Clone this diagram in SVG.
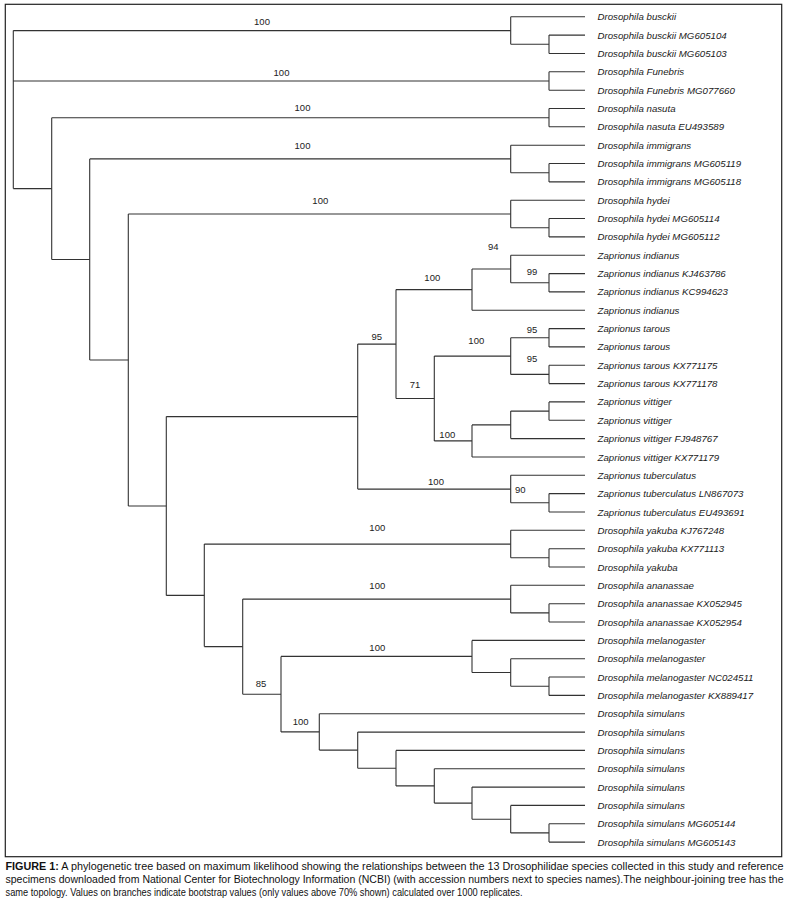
<svg xmlns="http://www.w3.org/2000/svg" width="792" height="902" viewBox="0 0 792 902">
<style>
.frame{fill:none;stroke:#222;stroke-width:1.2}
.br{fill:none;stroke:#333;stroke-width:1.1}
.lf{font-family:"Liberation Sans",Arial,sans-serif;font-style:italic;font-size:9.7px;fill:#1a1a1a}
.bs{font-family:"Liberation Sans",Arial,sans-serif;font-size:9.5px;fill:#222;text-anchor:middle}
.cap{font-family:"Liberation Sans",Arial,sans-serif;font-size:10.5px;fill:#111}
</style>
<rect class="frame" x="5.3" y="4.3" width="776.4" height="852.4"/>
<g id="connectors" class="br">
<path d="M13.3 30.6V188.6M13.3 30.6H510.7M13.3 81H549M13.3 188.6H51.7"/>
<path d="M510.7 16.8V44.3M510.7 16.8H585M510.7 44.3H549"/>
<path d="M549 35.1V53.5M549 35.1H585M549 53.5H585"/>
<path d="M549 71.8V90.2M549 71.8H585M549 90.2H585"/>
<path d="M51.7 117.7V259.5M51.7 117.7H549M51.7 259.5H89.7"/>
<path d="M549 108.5V126.8M549 108.5H585M549 126.8H585"/>
<path d="M89.7 158.9V360M89.7 158.9H510.7M89.7 360H128.3"/>
<path d="M510.7 145.2V172.7M510.7 145.2H585M510.7 172.7H549"/>
<path d="M549 163.5V181.9M549 163.5H585M549 181.9H585"/>
<path d="M128.3 214V506M128.3 214H510.7M128.3 506H166.3"/>
<path d="M510.7 200.2V227.7M510.7 200.2H585M510.7 227.7H549"/>
<path d="M549 218.5V236.9M549 218.5H585M549 236.9H585"/>
<path d="M166.3 416.6V595.4M166.3 416.6H357.7M166.3 595.4H204.3"/>
<path d="M357.7 344.1V489.1M357.7 344.1H396M357.7 489.1H510.7"/>
<path d="M396 289.6V398.5M396 289.6H472M396 398.5H434.3"/>
<path d="M472 269V310.2M472 269H510.7M472 310.2H585"/>
<path d="M510.7 255.2V282.7M510.7 255.2H585M510.7 282.7H549"/>
<path d="M549 273.6V291.9M549 273.6H585M549 291.9H585"/>
<path d="M434.3 356.1V440.9M434.3 356.1H510.7M434.3 440.9H472"/>
<path d="M510.7 337.8V374.4M510.7 337.8H549M510.7 374.4H549"/>
<path d="M549 328.6V346.9M549 328.6H585M549 346.9H585"/>
<path d="M549 365.3V383.6M549 365.3H585M549 383.6H585"/>
<path d="M472 424.9V457M472 424.9H510.7M472 457H585"/>
<path d="M510.7 411.1V438.6M510.7 411.1H549M510.7 438.6H585"/>
<path d="M549 401.9V420.3M549 401.9H585M549 420.3H585"/>
<path d="M510.7 475.3V502.8M510.7 475.3H585M510.7 502.8H549"/>
<path d="M549 493.6V512M549 493.6H585M549 512H585"/>
<path d="M204.3 544.1V646.6M204.3 544.1H510.7M204.3 646.6H242.7"/>
<path d="M510.7 530.3V557.8M510.7 530.3H585M510.7 557.8H549"/>
<path d="M549 548.7V567M549 548.7H585M549 567H585"/>
<path d="M242.7 599.1V694.2M242.7 599.1H510.7M242.7 694.2H281"/>
<path d="M510.7 585.3V612.9M510.7 585.3H585M510.7 612.9H549"/>
<path d="M549 603.7V622M549 603.7H585M549 622H585"/>
<path d="M281 656.4V731.9M281 656.4H472M281 731.9H319.3"/>
<path d="M472 640.4V672.5M472 640.4H585M472 672.5H510.7"/>
<path d="M510.7 658.7V686.2M510.7 658.7H585M510.7 686.2H549"/>
<path d="M549 677V695.4M549 677H585M549 695.4H585"/>
<path d="M319.3 713.7V750.1M319.3 713.7H585M319.3 750.1H357.7"/>
<path d="M357.7 732.1V768.2M357.7 732.1H585M357.7 768.2H396"/>
<path d="M396 750.4V785.9M396 750.4H585M396 785.9H434.3"/>
<path d="M434.3 768.7V803.1M434.3 768.7H585M434.3 803.1H472"/>
<path d="M472 787.1V819.2M472 787.1H585M472 819.2H510.7"/>
<path d="M510.7 805.4V832.9M510.7 805.4H585M510.7 832.9H549"/>
<path d="M549 823.8V842.1M549 823.8H585M549 842.1H585"/>
</g>
<g id="bootstrap" class="bs">
<text x="262" y="25">100</text>
<text x="281.5" y="76">100</text>
<text x="302.5" y="111">100</text>
<text x="302.5" y="149">100</text>
<text x="320.3" y="204">100</text>
<text x="493.3" y="250">94</text>
<text x="432.3" y="281">100</text>
<text x="532" y="275">99</text>
<text x="376.7" y="340">95</text>
<text x="476.3" y="344">100</text>
<text x="532" y="332.7">95</text>
<text x="532" y="361.7">95</text>
<text x="415" y="387.7">71</text>
<text x="447.3" y="438">100</text>
<text x="436" y="484.7">100</text>
<text x="520.3" y="493">90</text>
<text x="377.3" y="530.7">100</text>
<text x="377.3" y="588.7">100</text>
<text x="377.3" y="650.7">100</text>
<text x="261" y="686.7">85</text>
<text x="300.7" y="724.7">100</text>
</g>
<g id="leaves" class="lf">
<g id="leaf-1"><text x="597.5" y="20.3">Drosophila busckii</text></g>
<g id="leaf-2"><text x="597.5" y="38.6">Drosophila busckii MG605104</text></g>
<g id="leaf-3"><text x="597.5" y="57">Drosophila busckii MG605103</text></g>
<g id="leaf-4"><text x="597.5" y="75.3">Drosophila Funebris</text></g>
<g id="leaf-5"><text x="597.5" y="93.7">Drosophila Funebris MG077660</text></g>
<g id="leaf-6"><text x="597.5" y="112">Drosophila nasuta</text></g>
<g id="leaf-7"><text x="597.5" y="130.3">Drosophila nasuta EU493589</text></g>
<g id="leaf-8"><text x="597.5" y="148.7">Drosophila immigrans</text></g>
<g id="leaf-9"><text x="597.5" y="167">Drosophila immigrans MG605119</text></g>
<g id="leaf-10"><text x="597.5" y="185.4">Drosophila immigrans MG605118</text></g>
<g id="leaf-11"><text x="597.5" y="203.7">Drosophila hydei</text></g>
<g id="leaf-12"><text x="597.5" y="222">Drosophila hydei MG605114</text></g>
<g id="leaf-13"><text x="597.5" y="240.4">Drosophila hydei MG605112</text></g>
<g id="leaf-14"><text x="597.5" y="258.7">Zaprionus indianus</text></g>
<g id="leaf-15"><text x="597.5" y="277.1">Zaprionus indianus KJ463786</text></g>
<g id="leaf-16"><text x="597.5" y="295.4">Zaprionus indianus KC994623</text></g>
<g id="leaf-17"><text x="597.5" y="313.7">Zaprionus indianus</text></g>
<g id="leaf-18"><text x="597.5" y="332.1">Zaprionus tarous</text></g>
<g id="leaf-19"><text x="597.5" y="350.4">Zaprionus tarous</text></g>
<g id="leaf-20"><text x="597.5" y="368.8">Zaprionus tarous KX771175</text></g>
<g id="leaf-21"><text x="597.5" y="387.1">Zaprionus tarous KX771178</text></g>
<g id="leaf-22"><text x="597.5" y="405.4">Zaprionus vittiger</text></g>
<g id="leaf-23"><text x="597.5" y="423.8">Zaprionus vittiger</text></g>
<g id="leaf-24"><text x="597.5" y="442.1">Zaprionus vittiger FJ948767</text></g>
<g id="leaf-25"><text x="597.5" y="460.5">Zaprionus vittiger KX771179</text></g>
<g id="leaf-26"><text x="597.5" y="478.8">Zaprionus tuberculatus</text></g>
<g id="leaf-27"><text x="597.5" y="497.1">Zaprionus tuberculatus LN867073</text></g>
<g id="leaf-28"><text x="597.5" y="515.5">Zaprionus tuberculatus EU493691</text></g>
<g id="leaf-29"><text x="597.5" y="533.8">Drosophila yakuba KJ767248</text></g>
<g id="leaf-30"><text x="597.5" y="552.2">Drosophila yakuba KX771113</text></g>
<g id="leaf-31"><text x="597.5" y="570.5">Drosophila yakuba</text></g>
<g id="leaf-32"><text x="597.5" y="588.8">Drosophila ananassae</text></g>
<g id="leaf-33"><text x="597.5" y="607.2">Drosophila ananassae KX052945</text></g>
<g id="leaf-34"><text x="597.5" y="625.5">Drosophila ananassae KX052954</text></g>
<g id="leaf-35"><text x="597.5" y="643.9">Drosophila melanogaster</text></g>
<g id="leaf-36"><text x="597.5" y="662.2">Drosophila melanogaster</text></g>
<g id="leaf-37"><text x="597.5" y="680.5">Drosophila melanogaster NC024511</text></g>
<g id="leaf-38"><text x="597.5" y="698.9">Drosophila melanogaster KX889417</text></g>
<g id="leaf-39"><text x="597.5" y="717.2">Drosophila simulans</text></g>
<g id="leaf-40"><text x="597.5" y="735.6">Drosophila simulans</text></g>
<g id="leaf-41"><text x="597.5" y="753.9">Drosophila simulans</text></g>
<g id="leaf-42"><text x="597.5" y="772.2">Drosophila simulans</text></g>
<g id="leaf-43"><text x="597.5" y="790.6">Drosophila simulans</text></g>
<g id="leaf-44"><text x="597.5" y="808.9">Drosophila simulans</text></g>
<g id="leaf-45"><text x="597.5" y="827.3">Drosophila simulans MG605144</text></g>
<g id="leaf-46"><text x="597.5" y="845.6">Drosophila simulans MG605143</text></g>
</g>
<g id="caption" class="cap">
<text x="5.5" y="869.5" textLength="778" lengthAdjust="spacingAndGlyphs"><tspan font-weight="bold">FIGURE 1:</tspan> A phylogenetic tree based on maximum likelihood showing the relationships between the 13 Drosophilidae species collected in this study and reference</text>
<text x="5.5" y="882.5" textLength="778" lengthAdjust="spacingAndGlyphs">specimens downloaded from National Center for Biotechnology Information (NCBI) (with accession numbers next to species names).The neighbour-joining tree has the</text>
<text x="5.5" y="895.5" textLength="517" lengthAdjust="spacingAndGlyphs">same topology. Values on branches indicate bootstrap values (only values above 70% shown) calculated over 1000 replicates.</text>
</g>
</svg>
